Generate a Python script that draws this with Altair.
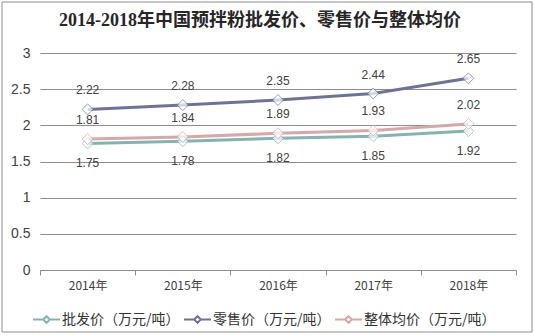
import altair as alt
import pandas as pd

title_text = "2014-2018年中国预拌粉批发价、零售价与整体均价"
years = ["2014年", "2015年", "2016年", "2017年", "2018年"]
series_names = ["批发价（万元/吨）", "零售价（万元/吨）", "整体均价（万元/吨）"]
wholesale = [1.75, 1.78, 1.82, 1.85, 1.92]
retail = [2.22, 2.28, 2.35, 2.44, 2.65]
overall = [1.81, 1.84, 1.89, 1.93, 2.02]
colors = ["#82b5b2", "#6e7299", "#d6a8a7"]

rows = []
for name, vals in zip(series_names, [wholesale, retail, overall]):
    for y, v in zip(years, vals):
        rows.append({"year": y, "series": name, "value": v})
df = pd.DataFrame(rows)

x_enc = alt.X("year:N", sort=years,
              scale=alt.Scale(paddingInner=0, paddingOuter=0),
              axis=alt.Axis(title=None, labelAngle=0, tickBand="extent",
                            labelFontSize=12, labelColor="#404040",
                            labelFont="Noto Sans CJK SC", labelPadding=5,
                            domainColor="#8c8c8c", tickColor="#8c8c8c",
                            tickSize=5, grid=False))
y_enc = alt.Y("value:Q", scale=alt.Scale(domain=[0, 3], nice=False),
              axis=alt.Axis(title=None, values=[0, 0.5, 1, 1.5, 2, 2.5, 3],
                            labelExpr="datum.value", labelFontSize=14,
                            labelColor="#404040", labelFont="Liberation Sans",
                            labelPadding=10, domain=False, ticks=False,
                            gridColor="#8c8c8c", gridWidth=1))
color_enc = alt.Color("series:N", sort=series_names,
                      scale=alt.Scale(domain=series_names, range=colors),
                      legend=alt.Legend(title=None, orient="none",
                                        legendX=-8, legendY=252,
                                        direction="horizontal", columns=3,
                                        symbolType="M-1,0L-0.25,0M0.25,0L1,0M-0.25,0L0,-0.25L0.25,0L0,0.25Z",
                                        symbolSize=729, symbolStrokeWidth=2,
                                        symbolFillColor="white",
                                        labelFontSize=14, labelColor="#333333",
                                        labelFont="Noto Sans CJK SC",
                                        labelOffset=1, columnPadding=0,
                                        labelLimit=200))

base = alt.Chart(df)
lines = base.mark_line(strokeWidth=3).encode(x=x_enc, y=y_enc, color=color_enc)
points = base.mark_point(shape="diamond", size=120, filled=True, fill="white",
                         strokeWidth=1).encode(
    x=x_enc, y=y_enc,
    stroke=alt.Stroke("series:N", scale=alt.Scale(domain=series_names, range=colors), legend=None))

def labels(name, dy):
    return base.transform_filter(alt.datum.series == name).mark_text(
        dy=dy, fontSize=12, color="#404040", font="Liberation Sans").encode(
        x=x_enc, y=y_enc, text=alt.Text("value:Q", format=".2f"))

one = pd.DataFrame({"t": [title_text]})
border = alt.Chart(one).mark_rect(
    fill=None, stroke="#8c8c8c", strokeWidth=1).encode(
    x=alt.value(-38), x2=alt.value(492), y=alt.value(-51), y2=alt.value(279))
title = alt.Chart(one).mark_text(
    font="Liberation Serif, Noto Sans CJK SC", fontSize=18, fontWeight="bold",
    color="#262626", align="center", baseline="middle").encode(
    x=alt.value(220), y=alt.value(-32), text="t:N")

chart = alt.layer(
    lines, points,
    labels(series_names[0], 20), labels(series_names[1], -19), labels(series_names[2], -19),
    border, title,
).properties(
    width=476, height=217,
    autosize=alt.AutoSizeParams(type="none"),
    padding={"left": 40, "top": 53, "right": 18, "bottom": 66},
).configure_view(stroke=None)

chart.save("out.html", embed_options={"renderer": "svg", "actions": False})
